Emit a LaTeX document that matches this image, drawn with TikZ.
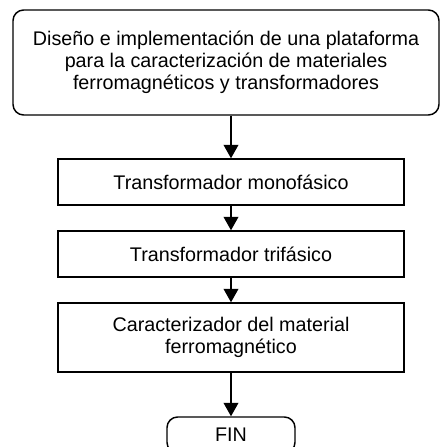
\documentclass[tikz,border=0pt]{standalone}
\usepackage{fontspec}
\setmainfont{Liberation Sans}
\usetikzlibrary{arrows.meta}

\tikzset{every picture/.style={line width=1.1pt}}
\tikzset{
  caja/.style={draw, rectangle, align=center, inner sep=0.75pt, font=\fontsize{14.8}{16.5}\selectfont},
  flecha/.style={-{Triangle[width=11pt,length=10pt]}}
}

\begin{document}
\begin{tikzpicture}[x=0.75pt,y=0.75pt,yscale=-1,xscale=1]
\useasboundingbox (0,0) rectangle (440,447);

% Text Node
\node [caja, rounded corners=8pt, minimum width=319.5pt, minimum height=78.75pt] (diseno) at (226,62.5) {Diseño e implementación de una plataforma\\para la caracterización de materiales\\ferromagnéticos y transformadores};
% Text Node
\node [caja, minimum width=259.5pt, minimum height=34.5pt] (mono) at (231,182) {Transformador monofásico};
% Text Node
\node [caja, minimum width=259.5pt, minimum height=34.5pt] (tri) at (231,254) {Transformador trifásico};
% Text Node
\node [caja, minimum width=259.5pt, minimum height=51.75pt] (carac) at (231,337.5) {Caracterizador del material\\ferromagnético};
% Text Node
\node [caja, rounded corners=8pt, minimum width=96pt, minimum height=27pt] (fin) at (231,435) {FIN};

%Straight Lines
\draw [flecha] (diseno.south -| mono.north) -- (mono.north);
%Straight Lines
\draw [flecha] (mono) -- (tri);
%Straight Lines
\draw [flecha] (tri) -- (carac);
%Straight Lines
\draw [flecha] (carac) -- (fin);

\end{tikzpicture}
\end{document}
